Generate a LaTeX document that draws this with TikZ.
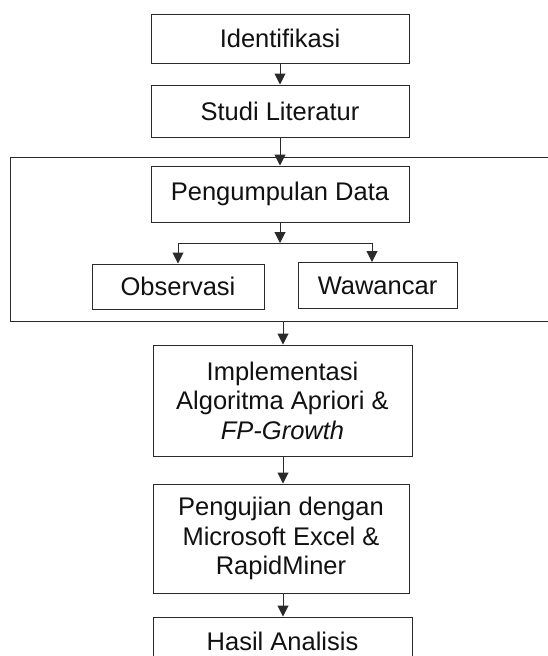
\documentclass[tikz,border=0pt]{standalone}
\usepackage{fontspec}
\setmainfont{Liberation Sans}
\usetikzlibrary{arrows.meta}
\definecolor{linec}{HTML}{2A2A2A}
\definecolor{textc}{HTML}{111111}
\begin{document}
\begin{tikzpicture}[x=1pt,y=-1pt,
  box/.style={draw=linec, line width=1pt, rectangle, inner sep=0pt, align=center,
    font=\fontsize{25.5}{29.5}\selectfont, text=textc},
  conn/.style={draw=linec, line width=1pt, -{Triangle[width=11pt,length=11pt]}},
  plain/.style={draw=linec, line width=1pt}]
\clip (0,0) rectangle (548,656);
\fill[white] (0,0) rectangle (548,656);
% outer frame (open to the right)
\node[draw=linec, line width=1.3pt, rectangle, inner sep=0pt, anchor=north west,
  minimum width=560, minimum height=164] (frame) at (10,157) {};
\node[box, minimum width=258, minimum height=49] (ident) at (280,38.5) {Identifikasi};
\node[box, minimum width=258, minimum height=52] (studi) at (280,111) {Studi Literatur};
\node[box, minimum width=258, minimum height=56] (pd) at (280,194) {Pengumpulan Data};
\node[box, minimum width=172, minimum height=45] (obs) at (178,286.5) {Observasi};
\node[box, minimum width=159, minimum height=46] (waw) at (377.5,285.5) {Wawancar};
\node[box, minimum width=259, minimum height=111] (impl) at (282.5,400.5)
  {Implementasi\\Algoritma Apriori \&\\\textit{FP-Growth}};
\node[box, minimum width=256, minimum height=109] (uji) at (281,538.5)
  {Pengujian dengan\\Microsoft Excel \&\\RapidMiner};
\node[box, minimum width=259, minimum height=48] (hasil) at (282.5,641) {Hasil Analisis};
% branch coordinates
\coordinate (br) at (280,243);
\coordinate (brl) at (178,243);
\coordinate (brr) at (372,243);
\coordinate (fb) at (283,321);
% connectors
\draw[conn] (ident.south) -- (studi.north);
\draw[conn] (studi.south) -- (pd.north);
\draw[conn] (pd.south) -- (br);
\draw[plain] (brl) -- (brr);
\draw[conn] (brl) -- (obs.north);
\draw[conn] (brr) -- (brr |- waw.north);
\draw[conn] (fb) -- (fb |- impl.north);
\draw[conn] (impl.south -| fb) -- (fb |- uji.north);
\draw[conn] (uji.south -| fb) -- (fb |- hasil.north);
\end{tikzpicture}
\end{document}
